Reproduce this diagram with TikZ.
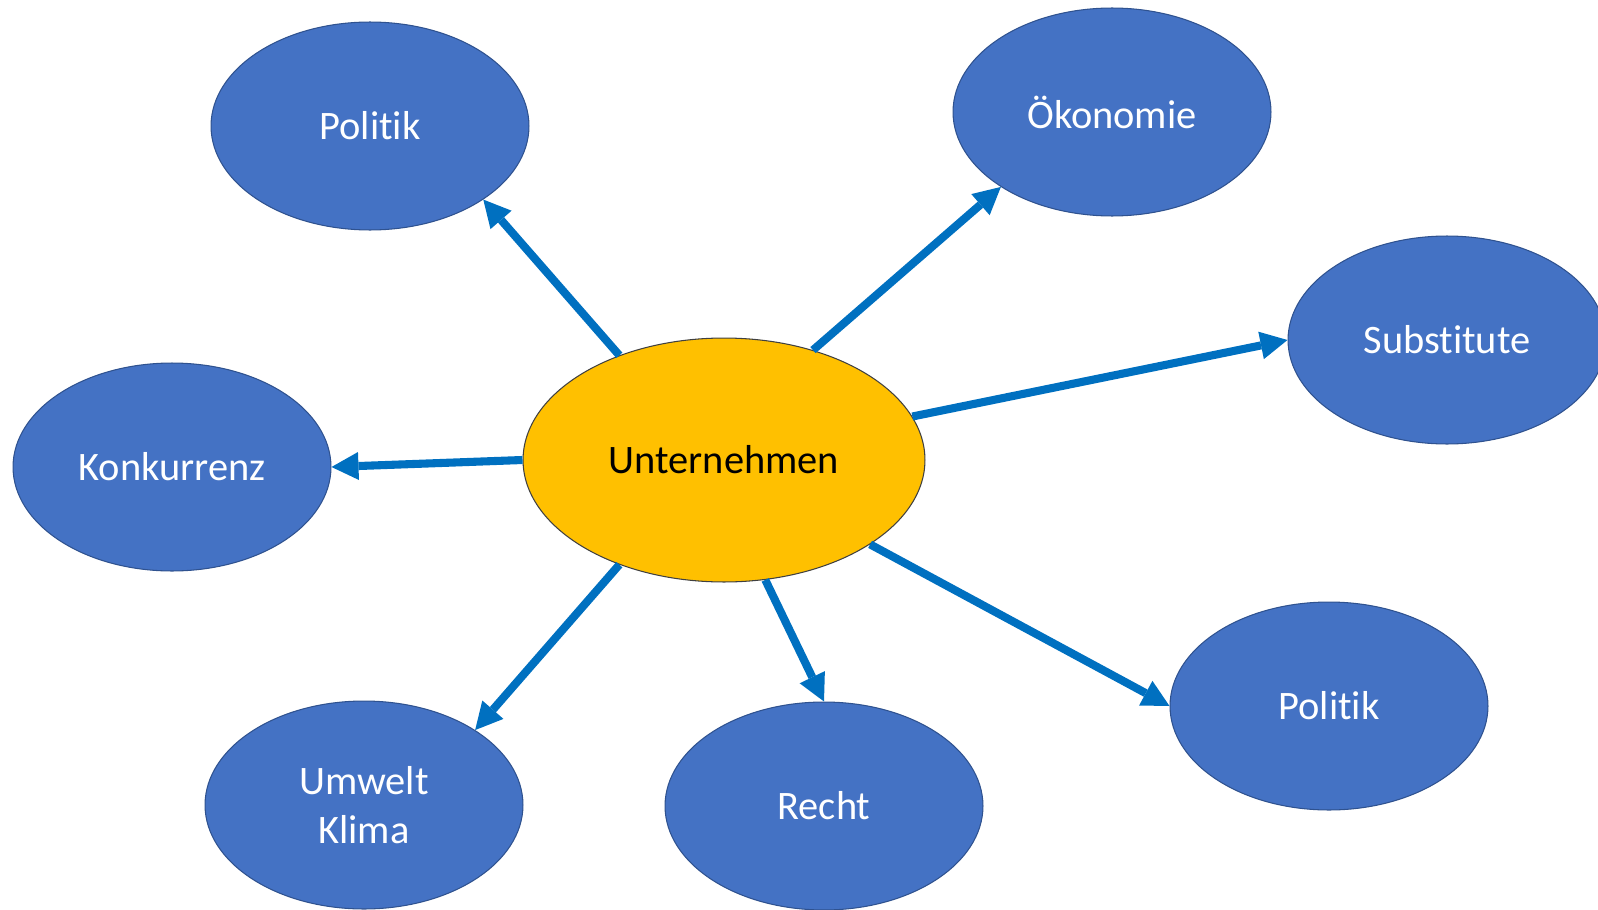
\documentclass[tikz,border=0pt]{standalone}
\usepackage{fontspec}
\setmainfont{Carlito}[Ligatures=NoCommon]
\usepackage{tikz}
\usetikzlibrary{arrows.meta,shapes.geometric}

\definecolor{feldblau}{HTML}{4472C4}
\definecolor{feldrand}{HTML}{2F528F}
\definecolor{kerngelb}{HTML}{FFC000}
\definecolor{pfeilblau}{HTML}{0070C0}

\begin{document}
\begin{tikzpicture}[x=0.02cm, y=-0.02cm,
	every node/.style={draw, ellipse, inner sep=0pt, align=center, font=\fontsize{23}{28}\selectfont},
	feld/.style={fill=feldblau, draw=feldrand, line width=0.6pt, text=white, minimum width=6.36cm, minimum height=4.16cm},
	kern/.style={fill=kerngelb, draw=black!75, line width=0.6pt, text=black, minimum width=8.04cm, minimum height=4.88cm},
	pfeil/.style={draw=pfeilblau, line width=4.6pt, -{Triangle[length=0.54cm, width=0.56cm, line width=0pt]}}]
		
		\useasboundingbox (0,0) rectangle (1598,909);
		
		% Nodes
		\node[kern] (ut) at (724,460) {Unternehmen};
		
		\node[feld] (pol1) at (370,126) {Politik};
		\node[feld] (oek) at (1112,112) {Ökonomie};
		\node[feld] (sub) at (1447,340) {Substitute};
		\node[feld] (kon) at (172,467) {Konkurrenz};
		\node[feld] (umw) at (364,805) {Umwelt\\Klima};
		\node[feld] (rec) at (824,806) {Recht};
		\node[feld] (pol2) at (1329,706) {Politik};
		
		% Arrows
		\draw[pfeil] (ut.135) -- (pol1.327);
		\draw[pfeil] (ut.51) -- (oek.214);
		\draw[pfeil] (ut.13) -- (sub.180);
		\draw[pfeil] (ut.180) -- (kon.0);
		\draw[pfeil] (ut.225) -- (umw.34);
		\draw[pfeil] (ut.289) -- (rec.90);
		\draw[pfeil] (ut.330) -- (pol2.180);
		
	\end{tikzpicture}
\end{document}
